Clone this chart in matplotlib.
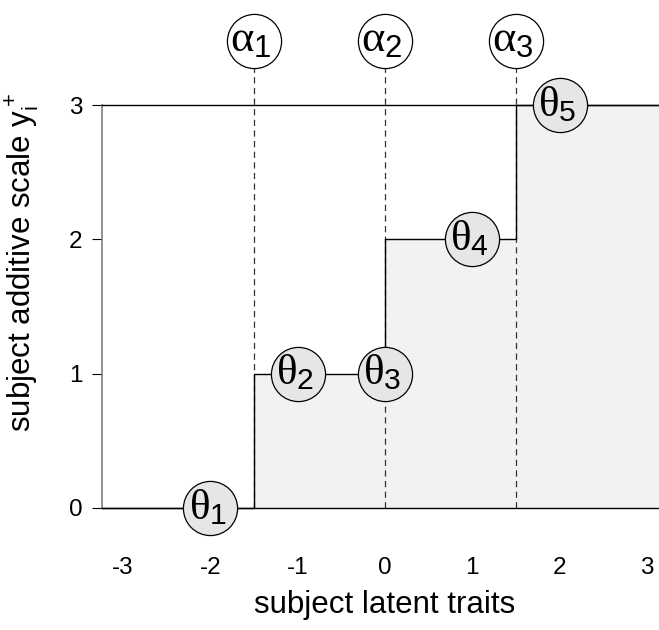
import matplotlib
matplotlib.use("Agg")
import matplotlib.pyplot as plt
import numpy as np

# ---- data ----
alpha_pos = [-1.5, 0.0, 1.5]
alpha_labels = [r'$\alpha_1$', r'$\alpha_2$', r'$\alpha_3$']
theta_x = [-2, -1, 0, 1, 2]
theta_y = [0, 1, 1, 2, 3]
theta_labels = [r'$\theta_1$', r'$\theta_2$', r'$\theta_3$', r'$\theta_4$', r'$\theta_5$']
step_levels = [0, 1, 2, 3]
x_ticks = [-3, -2, -1, 0, 1, 2, 3]
y_ticks = [0, 1, 2, 3]
x_label = "subject latent traits"
y_label = r'subject additive scale $\mathrm{y}_\mathrm{i}^+$'

plt.rcParams['font.family'] = ['Liberation Sans', 'DejaVu Sans']
plt.rcParams['mathtext.fontset'] = 'custom'
plt.rcParams['mathtext.rm'] = 'Liberation Sans'
plt.rcParams['mathtext.it'] = 'Liberation Serif'
plt.rcParams['mathtext.bf'] = 'Liberation Sans:bold'

W, H = 659, 630
fig = plt.figure(figsize=(W / 100, H / 100), dpi=100)
ax = fig.add_axes([102 / W, 1 - 508 / H, 1 - 102 / W, (508 - 105) / H])

unit = 262 / 3.0
xl = (102 - 385) / unit
xr = (659 - 385) / unit
ax.set_xlim(xl, xr)
ax.set_ylim(0, 3)

# step function
sx = [xl] + alpha_pos + [xr]
sy = step_levels + [step_levels[-1]]
ax.fill_between(sx, sy, 0, step='post', color='#f2f2f2', zorder=1, lw=0)
ax.step(sx, sy, where='post', color='black', lw=1.0, zorder=3, clip_on=False)
ax.plot([xl, xr], [0, 0], color='black', lw=1.0, zorder=3, clip_on=False)
ax.plot([xl, xr], [3, 3], color='black', lw=1.0, zorder=3, clip_on=False)

# dashed alpha lines
alpha_y = 3.48
for a in alpha_pos:
    ax.plot([a, a], [0, alpha_y], color='#333333', lw=0.9, ls=(0, (5, 3.5)),
            zorder=2, clip_on=False)

# circles
ax.plot(alpha_pos, [alpha_y] * len(alpha_pos), 'o', ms=39, mfc='white',
        mec='black', mew=0.9, zorder=5, clip_on=False)
for a, lab in zip(alpha_pos, alpha_labels):
    ax.text(a - 0.04, alpha_y + 0.01, lab, fontsize=32, ha='center', va='center',
            zorder=6, clip_on=False)

ax.plot(theta_x, theta_y, 'o', ms=39, mfc='#e6e6e6', mec='black', mew=0.9,
        zorder=5, clip_on=False)
for tx, ty, lab in zip(theta_x, theta_y, theta_labels):
    ax.text(tx - 0.03, ty, lab, fontsize=31, ha='center', va='center',
            zorder=6, clip_on=False)

# axes styling
for s in ['top', 'right', 'bottom']:
    ax.spines[s].set_visible(False)
ax.spines['left'].set_color('#808080')
ax.spines['left'].set_linewidth(1.2)
ax.set_xticks(x_ticks)
ax.set_xticklabels([str(v) for v in x_ticks])
ax.set_yticks(y_ticks)
ax.set_yticklabels([str(v) for v in y_ticks])
ax.tick_params(axis='x', length=0, pad=35, labelsize=17.5)
ax.tick_params(axis='y', length=7.2, width=0.8, color='black', pad=7, labelsize=17.5)

fig.text(385 / W, 1 - 605 / H, x_label, fontsize=22.5, ha='center', va='center')
fig.text(22 / W, 1 - 263 / H, y_label, fontsize=22.5, ha='center', va='center',
         rotation=90)

fig.savefig("out.png", dpi=100)
